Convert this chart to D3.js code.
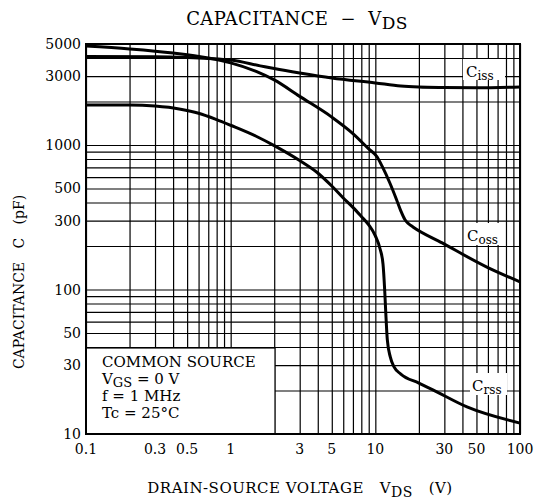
<!DOCTYPE html>
<html>
<head>
<meta charset="utf-8">
<script src="https://cdn.jsdelivr.net/npm/d3@7"></script>
<style>
  body { margin: 0; background: #fff; }
  text { font-family: "DejaVu Serif", "Liberation Serif", serif; fill: #000; white-space: pre; }
</style>
</head>
<body>
<script>
// chart data
var cissV = [0.1, 0.3, 0.5, 0.7, 1, 1.6, 2, 3, 5, 10, 15, 20, 30, 50, 100];
var cissC = [4100, 4080, 4030, 3970, 3870, 3530, 3380, 3150, 2910, 2690, 2560, 2520, 2500, 2490, 2520];

var cossV = [0.1, 0.2, 0.4, 0.7, 1, 1.5, 2, 3, 5, 7, 9, 10.3, 11.2, 12.6, 14, 15, 16, 17, 18.2, 29, 59, 100];
var cossC = [4840, 4620, 4330, 4000, 3700, 3230, 2820, 2170, 1560, 1200, 940, 826, 705, 546, 420, 350, 305, 285, 271, 210, 143, 113];

var crssV = [0.1, 0.2, 0.3, 0.45, 0.6, 0.8, 1, 1.5, 2, 3, 4, 5, 6, 7, 8, 9, 10, 10.8, 11.3, 11.6, 11.8, 12.1, 12.7, 13.5, 15, 20, 25, 43, 100];
var crssC = [1890, 1890, 1860, 1770, 1660, 1500, 1370, 1150, 990, 780, 640, 520, 430, 370, 320, 280, 235, 190, 150, 100, 70, 45, 34, 29, 26, 22.5, 20.2, 15.4, 11.9];

var xTicks = [0.1, 0.3, 0.5, 1, 3, 5, 10, 30, 50, 100];
var yTicks = [10, 30, 50, 100, 300, 500, 1000, 3000, 5000];
var condLines = ["COMMON SOURCE", "V|GS| = 0 V", "f = 1 MHz", "Tc = 25°C"];

var width = 536, height = 499;
var margin = {top: 44, right: 16, bottom: 65, left: 86};

var svg = d3.select("body").append("svg")
  .attr("width", width)
  .attr("height", height);

var x = d3.scaleLog().domain([0.1, 100]).range([margin.left, width - margin.right]);
var y = d3.scaleLog().domain([10, 5000]).range([height - margin.bottom, margin.top]);

// grid lines
svg.append("g")
  .attr("transform", "translate(0," + (height - margin.bottom) + ")")
  .call(d3.axisBottom(x).tickValues(x.ticks()).tickSize(-(y.range()[0] - y.range()[1])).tickFormat(""))
  .call(function(g) { g.select(".domain").remove(); })
  .selectAll("line").attr("stroke", "#000").attr("stroke-width", 1.2);

svg.append("g")
  .attr("transform", "translate(" + margin.left + ",0)")
  .call(d3.axisLeft(y).tickValues(y.ticks()).tickSize(-(x.range()[1] - x.range()[0])).tickFormat(""))
  .call(function(g) { g.select(".domain").remove(); })
  .selectAll("line").attr("stroke", "#000").attr("stroke-width", 1.2);

// tick labels
svg.append("g")
  .selectAll("text").data(xTicks).enter().append("text")
  .attr("x", function(d) { return x(d); })
  .attr("y", height - margin.bottom + 20)
  .attr("text-anchor", "middle")
  .style("font-size", "14px")
  .text(function(d) { return d; });

svg.append("g")
  .selectAll("text").data(yTicks).enter().append("text")
  .attr("x", margin.left - 5)
  .attr("y", function(d) { return y(d) + 5; })
  .attr("text-anchor", "end")
  .style("font-size", "14px")
  .text(function(d) { return d; });

// label boxes that hide the grid
function clearBox(x0, y0, w, h, border) {
  svg.append("rect")
    .attr("x", x0).attr("y", y0).attr("width", w).attr("height", h)
    .attr("fill", "#fff")
    .attr("stroke", border ? "#000" : "none")
    .attr("stroke-width", 1.2);
}
clearBox(margin.left, 348, 189, height - margin.bottom - 348, true);
clearBox(463, 59, 42, 21, false);
clearBox(465, 223, 39, 22, false);
clearBox(470, 373, 37, 22, false);

// curves
var line = d3.line()
  .x(function(d) { return x(d[0]); })
  .y(function(d) { return y(d[1]); })
  .curve(d3.curveMonotoneX);

[[cissV, cissC], [cossV, cossC], [crssV, crssC]].forEach(function(s) {
  svg.append("path")
    .datum(d3.zip(s[0], s[1]))
    .attr("fill", "none")
    .attr("stroke", "#000")
    .attr("stroke-width", 3)
    .attr("stroke-linejoin", "round")
    .attr("d", line);
});

// plot border
svg.append("rect")
  .attr("x", margin.left).attr("y", margin.top)
  .attr("width", x.range()[1] - x.range()[0])
  .attr("height", y.range()[0] - y.range()[1])
  .attr("fill", "none")
  .attr("stroke", "#000")
  .attr("stroke-width", 2);

// text with a subscript part written as "A|sub|B"
function subText(sel, str, size, drop) {
  var parts = str.split("|");
  parts.forEach(function(p, i) {
    var t = sel.append("tspan").text(p);
    if (i % 2 == 1) t.attr("dy", drop).style("font-size", (size - 1) + "px");
    else if (i > 0) t.attr("dy", -drop);
  });
}

// curve names
[["C|iss|", 466, 77], ["C|oss|", 467, 241], ["C|rss|", 472, 391]].forEach(function(c) {
  var t = svg.append("text").attr("x", c[1]).attr("y", c[2]).style("font-size", "15px");
  subText(t, c[0], 13, 3);
});

// conditions
condLines.forEach(function(s, i) {
  var t = svg.append("text")
    .attr("x", 102)
    .attr("y", 367 + i * 17)
    .style("font-size", "15px");
  subText(t, s, 14, 3);
});

// title
var title = svg.append("text")
  .attr("x", 297).attr("y", 25)
  .attr("text-anchor", "middle")
  .style("font-size", "18px")
  .style("letter-spacing", "0.4px");
subText(title, "CAPACITANCE  \u2212  V|DS", 18, 4);

// axis titles
var xt = svg.append("text")
  .attr("x", 300).attr("y", 493)
  .attr("text-anchor", "middle")
  .style("font-size", "15px")
  .style("letter-spacing", "0.5px");
subText(xt, "DRAIN-SOURCE VOLTAGE   V|DS|   (V)", 15, 4);

svg.append("text")
  .attr("transform", "translate(24," + 282 + ") rotate(-90)")
  .attr("text-anchor", "middle")
  .style("font-size", "14px")
  .text("CAPACITANCE   C   (pF)");
</script>
</body>
</html>
